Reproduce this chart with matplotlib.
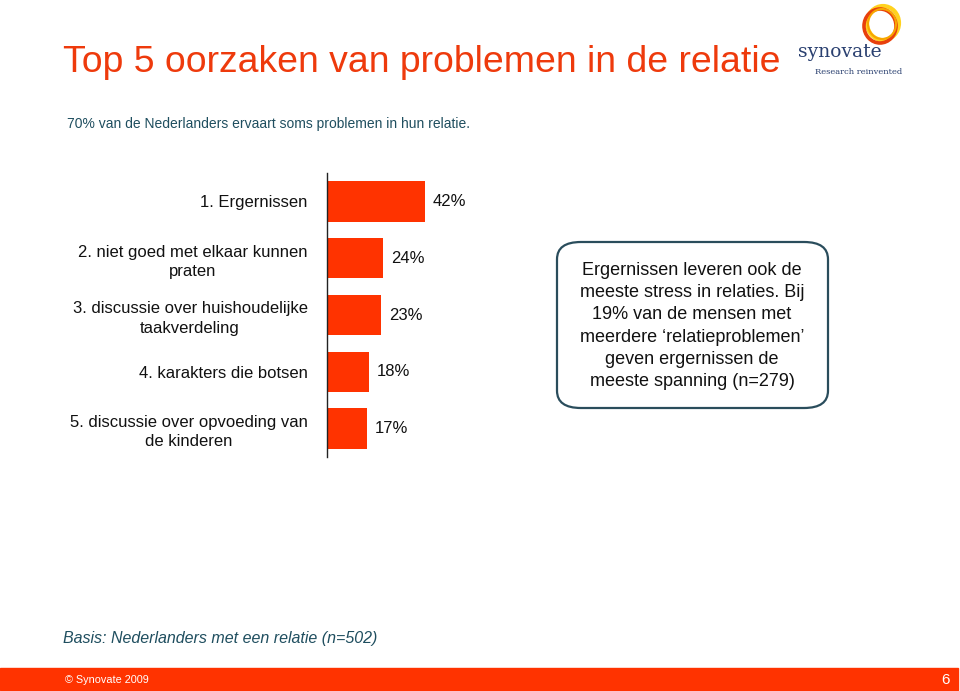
import matplotlib.pyplot as plt
from matplotlib.patches import FancyBboxPatch, Rectangle, Ellipse

plt.rcParams['font.family'] = ['Liberation Sans', 'DejaVu Sans']

categories = ["1. Ergernissen",
              "2. niet goed met elkaar kunnen\npraten",
              "3. discussie over huishoudelijke\ntaakverdeling",
              "4. karakters die botsen",
              "5. discussie over opvoeding van\nde kinderen"]
values = [42, 24, 23, 18, 17]

red = "#FF3300"
teal = "#1F4E5F"

fig = plt.figure(figsize=(9.6, 6.91), dpi=100)
W, H = 960, 691

# bar chart area, placed in pixels
ax = fig.add_axes([327 / W, (H - 457) / H, 105 / W, 284 / H])
ax.barh(range(len(values)), values, height=0.71, color=red)
ax.set_xlim(0, 45)
ax.set_ylim(4.5, -0.5)
for s in ["top", "right", "bottom"]:
    ax.spines[s].set_visible(False)
ax.spines["left"].set_color("#222222")
ax.spines["left"].set_linewidth(1)
ax.set_xticks([])
ax.set_yticks(range(len(categories)))
ax.set_yticklabels(categories, fontsize=12, color="#111111")
ax.tick_params(axis="y", length=0, pad=14)
for lab in ax.get_yticklabels():
    lab.set_multialignment("center")
    lab.set_linespacing(1.35)
for i, v in enumerate(values):
    ax.annotate(f"{v}%", (v, i), xytext=(8, 0), textcoords="offset pixels",
                va="center", ha="left", fontsize=12, color="#111111")

# title and subtitle
fig.text(63 / W, 1 - 62 / H, "Top 5 oorzaken van problemen in de relatie",
         fontsize=26.9, color="#EE3A0C", va="center", ha="left")
fig.text(67 / W, 1 - 124 / H,
         "70% van de Nederlanders ervaart soms problemen in hun relatie.",
         fontsize=10, color=teal, va="center", ha="left")

# note box
box = FancyBboxPatch((557 / W, 1 - 408 / H), 271 / W, 166 / H,
                     boxstyle="round,pad=0,rounding_size=0.025",
                     transform=fig.transFigure, facecolor="white",
                     edgecolor="#2A4D5C", linewidth=1.6)
fig.patches.append(box)
fig.text(692 / W, 1 - 326 / H,
         "Ergernissen leveren ook de\nmeeste stress in relaties. Bij\n"
         "19% van de mensen met\nmeerdere \u2018relatieproblemen\u2019\n"
         "geven ergernissen de\nmeeste spanning (n=279)",
         fontsize=13, ha="center", va="center", multialignment="center",
         linespacing=1.41, color="#111111")

# basis
fig.text(63 / W, 1 - 638 / H, "Basis: Nederlanders met een relatie (n=502)",
         fontsize=11.5, style="italic", color=teal, va="center", ha="left")

# footer bar
fig.patches.append(Rectangle((0, 1 - 690 / H), 958 / W, 22 / H,
                             transform=fig.transFigure, color=red))
fig.text(65 / W, 1 - 680 / H, "\u00a9 Synovate 2009", fontsize=7.8,
         color="white", va="center", ha="left")
fig.text(950 / W, 1 - 680 / H, "6", fontsize=11, color="white",
         va="center", ha="right")

# logo rings
fig.patches.append(Ellipse((883 / W, 1 - 23 / H), 32 / W, 34 / H,
                           transform=fig.transFigure, fill=False,
                           edgecolor="#FFD21F", linewidth=3))
fig.patches.append(Ellipse((880 / W, 1 - 26 / H), 32 / W, 34 / H,
                           transform=fig.transFigure, fill=False,
                           edgecolor="#E8400C", linewidth=2.6))
fig.patches.append(Ellipse((882 / W, 1 - 24 / H), 28 / W, 30 / H,
                           transform=fig.transFigure, fill=False,
                           edgecolor="#F7A600", linewidth=1.5))
fig.text(840 / W, 1 - 52 / H, "synovate", fontsize=13.5, family="DejaVu Serif",
         color="#2A4070", ha="center", va="center")
fig.text(859 / W, 1 - 72 / H, "Research reinvented", fontsize=6,
         family="DejaVu Serif", color="#2A4070", ha="center", va="center")

fig.savefig("out.png", dpi=100)
